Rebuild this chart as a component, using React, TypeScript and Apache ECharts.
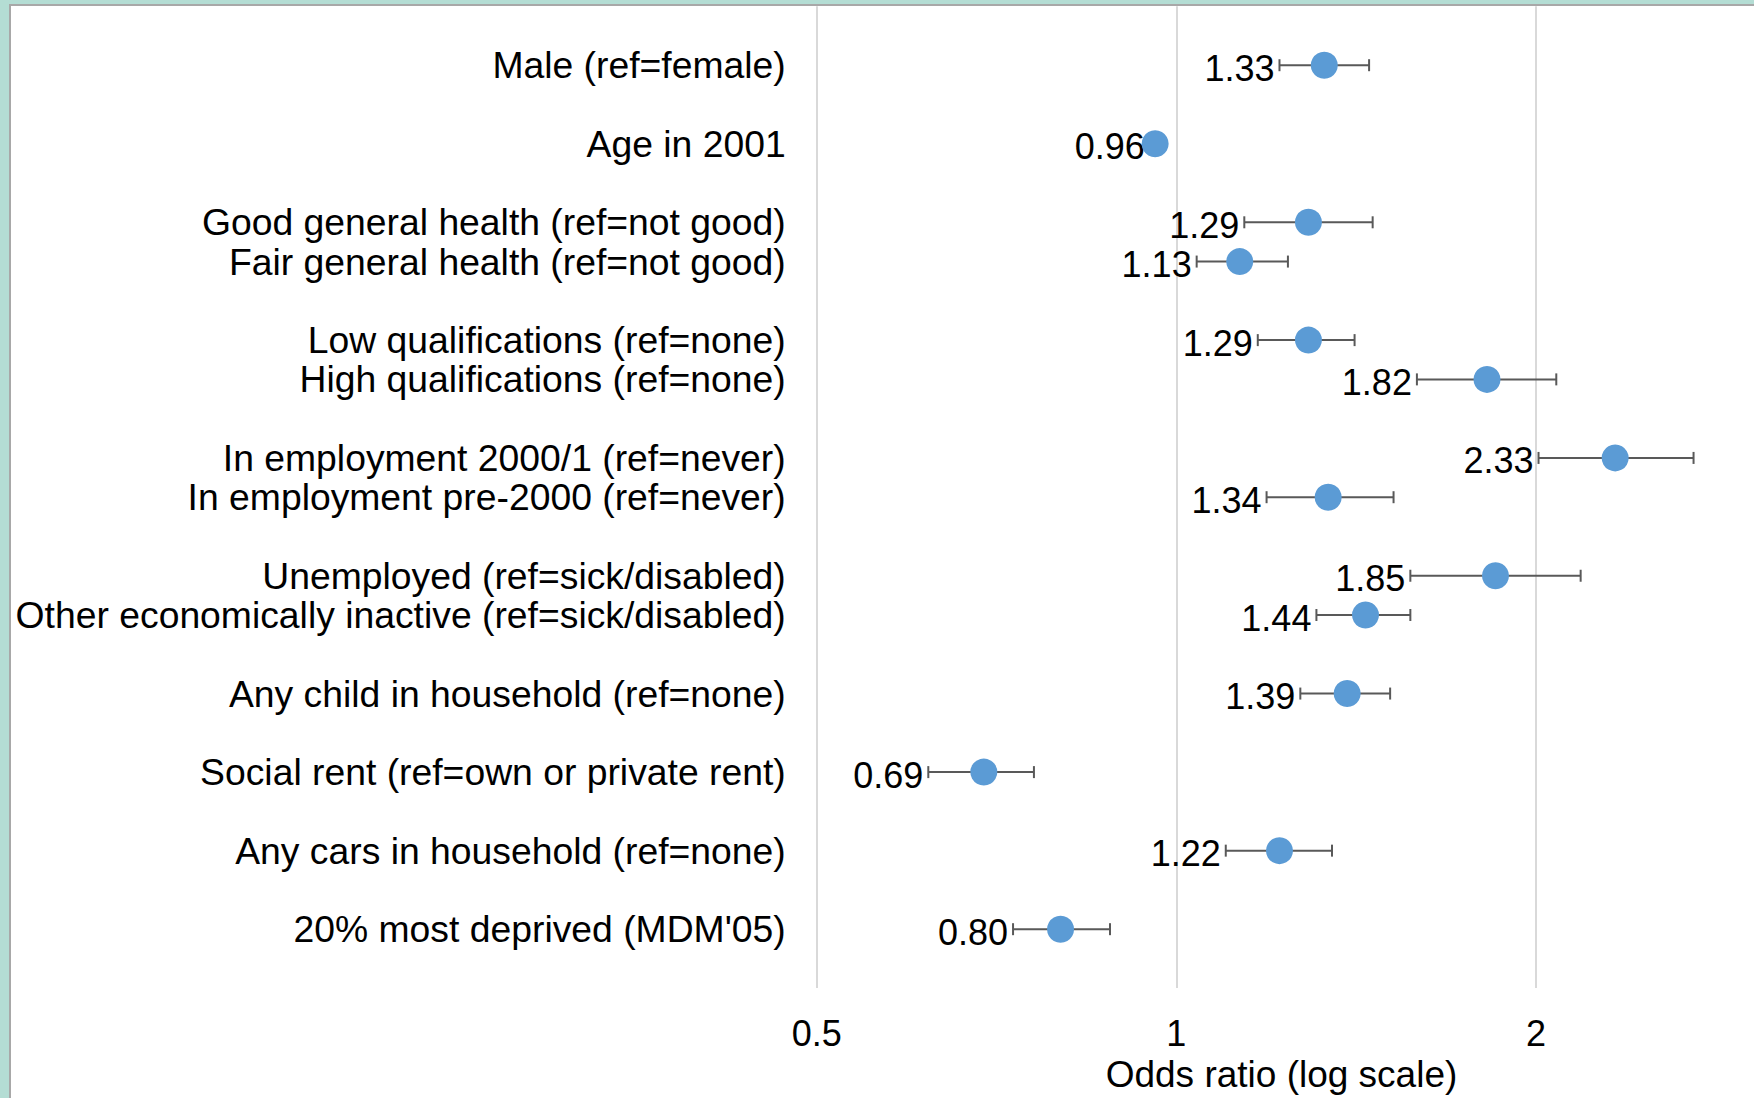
import { useEffect, useRef } from 'react';
import * as echarts from 'echarts';

// Predictors, in display order (top to bottom)
const rowLabels = [
  'Male (ref=female)',
  'Age in 2001',
  'Good general health (ref=not good)',
  'Fair general health (ref=not good)',
  'Low qualifications (ref=none)',
  'High qualifications (ref=none)',
  'In employment 2000/1 (ref=never)',
  'In employment pre-2000 (ref=never)',
  'Unemployed (ref=sick/disabled)',
  'Other economically inactive (ref=sick/disabled)',
  'Any child in household (ref=none)',
  'Social rent (ref=own or private rent)',
  'Any cars in household (ref=none)',
  "20% most deprived (MDM'05)",
];

// Rows sharing a group id sit next to each other without a gap
const rowGroups = [0, 1, 2, 2, 3, 3, 4, 4, 5, 5, 6, 7, 8, 9];

const oddsRatios = [1.33, 0.96, 1.29, 1.13, 1.29, 1.82, 2.33, 1.34, 1.85, 1.44, 1.39, 0.69, 1.22, 0.8];
const ciLower = [1.22, 0.95, 1.14, 1.04, 1.17, 1.59, 2.01, 1.19, 1.57, 1.31, 1.27, 0.62, 1.1, 0.73];
const ciUpper = [1.45, 0.97, 1.46, 1.24, 1.41, 2.08, 2.71, 1.52, 2.18, 1.57, 1.51, 0.76, 1.35, 0.88];

const xMin = 0.5;
const xMax = 3;

const FONT = '"Liberation Sans", Arial, Helvetica, sans-serif';
const DOT_COLOR = '#5B9BD5';
const BAR_COLOR = '#595959';

// Category slots: a blank slot before the first row, between groups and after the last row
function buildLayout() {
  const categories: string[] = [''];
  const slotOfRow: number[] = [];
  rowLabels.forEach((label, i) => {
    if (i > 0 && rowGroups[i] !== rowGroups[i - 1]) categories.push('');
    slotOfRow.push(categories.length);
    categories.push(label);
  });
  categories.push('');
  return { categories, slotOfRow };
}

export default function App() {
  const ref = useRef<HTMLDivElement>(null);

  useEffect(() => {
    if (!ref.current) return;
    const chart = echarts.init(ref.current, undefined, { renderer: 'svg' });
    const { categories, slotOfRow } = buildLayout();

    const errorData = rowLabels.map((_, i) => [ciLower[i], ciUpper[i], slotOfRow[i], i]);
    const pointData = rowLabels.map((_, i) => [oddsRatios[i], slotOfRow[i]]);

    chart.setOption({
      animation: false,
      backgroundColor: '#ffffff',
      textStyle: { fontFamily: FONT },
      graphic: [
        { type: 'rect', z: 100, shape: { x: 0, y: 0, width: 9, height: 1098 }, style: { fill: '#B4DDD4' } },
        { type: 'rect', z: 100, shape: { x: 0, y: 0, width: 1754, height: 4 }, style: { fill: '#B4DDD4' } },
        { type: 'rect', z: 100, shape: { x: 9, y: 4, width: 2, height: 1094 }, style: { fill: '#A8A8A8' } },
        { type: 'rect', z: 100, shape: { x: 9, y: 4, width: 1745, height: 2 }, style: { fill: '#A8A8A8' } },
      ],
      grid: { left: 816.7, right: 7.7, top: 6.3, height: 989, containLabel: false },
      xAxis: {
        type: 'log',
        logBase: 2,
        min: xMin,
        max: xMax,
        axisLine: { show: false },
        axisTick: { show: false },
        splitLine: { show: true, showMaxLine: false, lineStyle: { color: '#D9D9D9', width: 2 } },
        axisLabel: {
          fontSize: 36,
          color: '#000',
          fontFamily: FONT,
          margin: 27,
          showMaxLabel: false,
          formatter: (v: number) => String(Math.round(v * 100) / 100),
        },
        name: 'Odds ratio (log scale)',
        nameLocation: 'middle',
        nameGap: 63,
        nameTextStyle: { fontSize: 37, color: '#000', fontFamily: FONT },
      },
      yAxis: {
        type: 'category',
        inverse: true,
        data: categories,
        axisLine: { show: false },
        axisTick: { show: false },
        splitLine: { show: false },
        axisLabel: { fontSize: 37.3, color: '#000', fontFamily: FONT, margin: 31, interval: 0 },
      },
      series: [
        {
          type: 'custom',
          z: 2,
          encode: { x: [0, 1], y: 2 },
          data: errorData,
          renderItem: (params: any, api: any) => {
            const lo = api.value(0);
            const hi = api.value(1);
            const slot = api.value(2);
            const row = api.value(3);
            const p0 = api.coord([lo, slot]);
            const p1 = api.coord([hi, slot]);
            const cap = 6;
            const style = { stroke: BAR_COLOR, lineWidth: 2 };
            return {
              type: 'group',
              children: [
                { type: 'line', shape: { x1: p0[0], y1: p0[1], x2: p1[0], y2: p1[1] }, style },
                { type: 'line', shape: { x1: p0[0], y1: p0[1] - cap, x2: p0[0], y2: p0[1] + cap }, style },
                { type: 'line', shape: { x1: p1[0], y1: p1[1] - cap, x2: p1[0], y2: p1[1] + cap }, style },
                {
                  type: 'text',
                  x: p0[0] - 5,
                  y: p0[1] + 3,
                  style: {
                    text: oddsRatios[row].toFixed(2),
                    align: 'right',
                    verticalAlign: 'middle',
                    fill: '#000',
                    fontSize: 36,
                    fontFamily: FONT,
                  },
                },
              ],
            };
          },
        },
        {
          type: 'scatter',
          z: 3,
          symbol: 'circle',
          symbolSize: 27,
          itemStyle: { color: DOT_COLOR, opacity: 1 },
          data: pointData,
        },
      ],
    });

    return () => chart.dispose();
  }, []);

  return (
    <div
      ref={ref}
      style={{ position: 'fixed', left: 0, top: 0, width: 1754, height: 1098, background: '#fff' }}
    />
  );
}
